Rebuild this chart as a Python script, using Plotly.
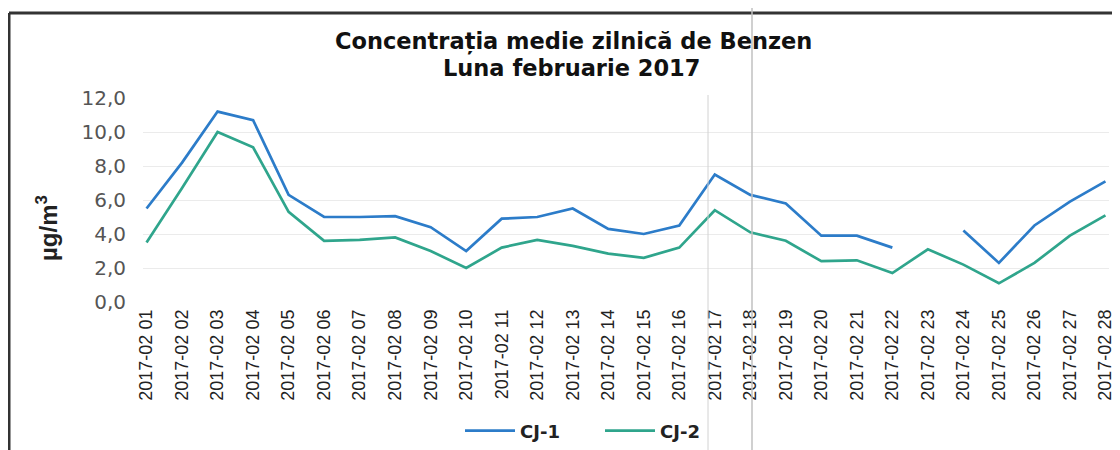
import plotly.graph_objects as go

days = [f"2017-02 {d:02d}" for d in range(1, 29)]
cj1 = [5.5, 8.2, 11.2, 10.7, 6.3, 5.0, 5.0, 5.05, 4.4, 3.0, 4.9, 5.0, 5.5, 4.3,
       4.0, 4.5, 7.5, 6.3, 5.8, 3.9, 3.9, 3.2, None, 4.2, 2.3, 4.5, 5.9, 7.1]
cj2 = [3.5, 6.7, 10.0, 9.1, 5.3, 3.6, 3.65, 3.8, 3.0, 2.0, 3.2, 3.65, 3.3, 2.85,
       2.6, 3.2, 5.4, 4.1, 3.6, 2.4, 2.45, 1.7, 3.1, 2.2, 1.1, 2.3, 3.9, 5.1]
yticks = [0, 2, 4, 6, 8, 10, 12]
yticktext = ["0,0", "2,0", "4,0", "6,0", "8,0", "10,0", "12,0"]

# page body offset (default 8px margin of the html page)
OFF = 8
W, H = 1120 - OFF, 450 - OFF
# plot area in screen pixels
L, R, T, B = 143, 1109, 98, 302

fig = go.Figure()
fig.add_trace(go.Scatter(x=days, y=cj1, mode="lines", name="<b>CJ-1</b>",
                         line=dict(color="#2c7cc9", width=2.7), connectgaps=False))
fig.add_trace(go.Scatter(x=days, y=cj2, mode="lines", name="<b>CJ-2</b>",
                         line=dict(color="#2fa58c", width=2.7), connectgaps=False))

def px(x):
    return (x - L) / (R - L)

def py(y):
    return (B - y) / (B - T)

shapes = [
    dict(type="line", xref="paper", yref="paper", x0=px(9), x1=px(1130), y0=py(13), y1=py(13),
         line=dict(color="#333333", width=3)),
    dict(type="line", xref="paper", yref="paper", x0=px(9), x1=px(9), y0=py(13), y1=py(460),
         line=dict(color="#333333", width=3)),
    dict(type="line", xref="paper", yref="paper", x0=px(708), x1=px(708), y0=py(95), y1=py(460),
         line=dict(color="#d2d2d2", width=1)),
    dict(type="line", xref="paper", yref="paper", x0=px(752), x1=px(752), y0=py(0), y1=py(460),
         line=dict(color="#c0c0c0", width=1.5)),
]

annotations = [
    dict(text="<b>Concentrația medie zilnică de Benzen</b>", xref="paper", yref="paper",
         x=px(573), y=py(41), xanchor="center", yanchor="middle", showarrow=False,
         font=dict(family="DejaVu Sans, sans-serif", size=22.5, color="#111")),
    dict(text="<b>Luna februarie 2017</b>", xref="paper", yref="paper",
         x=px(571), y=py(68), xanchor="center", yanchor="middle", showarrow=False,
         font=dict(family="DejaVu Sans, sans-serif", size=22.5, color="#111")),
    dict(text="<b>µg/m<sup>3</sup></b>", xref="paper", yref="paper", textangle=-90,
         x=px(47), y=py(228), xanchor="center", yanchor="middle", showarrow=False,
         font=dict(family="Liberation Sans, Arial, sans-serif", size=24, color="#222")),
]

fig.update_layout(
    width=W, height=H,
    margin=dict(l=L - OFF, r=W - (R - OFF), t=T - OFF, b=H - (B - OFF), autoexpand=False),
    paper_bgcolor="white", plot_bgcolor="white",
    font=dict(family="Liberation Sans, Arial, sans-serif", color="#222"),
    xaxis=dict(type="category", range=[-0.1, 27.1], tickangle=-90, showgrid=False,
               automargin=False, ticklabelstandoff=3,
               tickfont=dict(size=18, color="#222"), ticks="", showline=False, zeroline=False),
    yaxis=dict(range=[0, 12], tickvals=yticks, ticktext=yticktext, showgrid=True,
               automargin=False,
               gridcolor="#ebebeb", gridwidth=1, zeroline=False, showline=False,
               tickfont=dict(family="DejaVu Sans, sans-serif", size=20, color="#555"),
               ticks="", ticklabelstandoff=16),
    legend=dict(orientation="h", x=px(600), xanchor="center", y=py(431), yanchor="middle",
                font=dict(family="DejaVu Sans, sans-serif", size=18, color="#222"),
                itemwidth=50, entrywidth=75, entrywidthmode="pixels",
                bgcolor="rgba(0,0,0,0)"),
    shapes=shapes,
    annotations=annotations,
    showlegend=True,
)

fig.write_html("out.html")
